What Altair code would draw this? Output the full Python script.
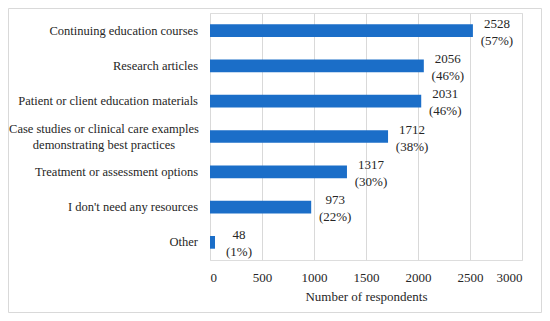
import altair as alt
import pandas as pd

categories = [
    "Continuing education courses",
    "Research articles",
    "Patient or client education materials",
    "Case studies or clinical care examples demonstrating best practices",
    "Treatment or assessment options",
    "I don't need any resources",
    "Other",
]
label_lines = [
    ["Continuing education courses"],
    ["Research articles"],
    ["Patient or client education materials"],
    ["Case studies or clinical care examples", "demonstrating best practices"],
    ["Treatment or assessment options"],
    ["I don't need any resources"],
    ["Other"],
]
counts = [2528, 2056, 2031, 1712, 1317, 973, 48]
percents = [57, 46, 46, 38, 30, 22, 1]
x_ticks = [0, 500, 1000, 1500, 2000, 2500, 3000]

df = pd.DataFrame({
    "cat": categories,
    "lines": label_lines,
    "count": counts,
    "val": [[str(c), f"({p}%)"] for c, p in zip(counts, percents)],
    "multi": [len(l) > 1 for l in label_lines],
})

FONT = "'Liberation Serif', 'Times New Roman', serif"
TXT = "#262626"
W, H = 312, 247

y = alt.Y("cat:N", sort=categories, axis=None,
          scale=alt.Scale(paddingInner=0.64, paddingOuter=0.32))
x = alt.X("count:Q",
          scale=alt.Scale(domain=[0, 3000], nice=False),
          axis=alt.Axis(values=x_ticks, format="d", title="Number of respondents",
                        grid=True, gridColor="#d9d9d9", domain=False, ticks=False,
                        labelFont=FONT, labelFontSize=13, labelColor=TXT,
                        labelPadding=11, titleFont=FONT, titleFontSize=13,
                        titleFontWeight="normal", titleColor=TXT, titlePadding=6))

base = alt.Chart(df)

bars = base.mark_bar(color="#1b6ec8").encode(x=x, y=y)

vals = base.mark_text(font=FONT, fontSize=13, color=TXT, align="center",
                      baseline="middle", dx=24, dy=-7, lineHeight=17).encode(
    x="count:Q", y=alt.Y("cat:N", sort=categories), text="val")

ylab_single = base.transform_filter("!datum.multi").mark_text(
    font=FONT, fontSize=12.5, color=TXT, align="right", baseline="middle",
    lineHeight=16).encode(
    x=alt.value(-12), y=alt.Y("cat:N", sort=categories), text="lines")

ylab_multi = base.transform_filter("datum.multi").mark_text(
    font=FONT, fontSize=12.5, color=TXT, align="center", baseline="middle",
    dy=-8, lineHeight=16).encode(
    x=alt.value(-106), y=alt.Y("cat:N", sort=categories), text="lines")

border = alt.Chart(pd.DataFrame({"a": [0]})).mark_rect(
    fill=None, stroke="#d9d9d9", strokeWidth=1).encode(
    x=alt.value(-201.5), x2=alt.value(W + 19.5),
    y=alt.value(-4.5), y2=alt.value(H + 52.5))

chart = alt.layer(border, bars, vals, ylab_single, ylab_multi).properties(
    width=W, height=H,
    autosize=alt.AutoSizeParams(type="none"),
    padding={"left": 202, "top": 5, "right": 20, "bottom": 53},
).configure_view(stroke=None).configure(background="white")

chart.save("out.html", embed_options={"renderer": "svg", "actions": False})
